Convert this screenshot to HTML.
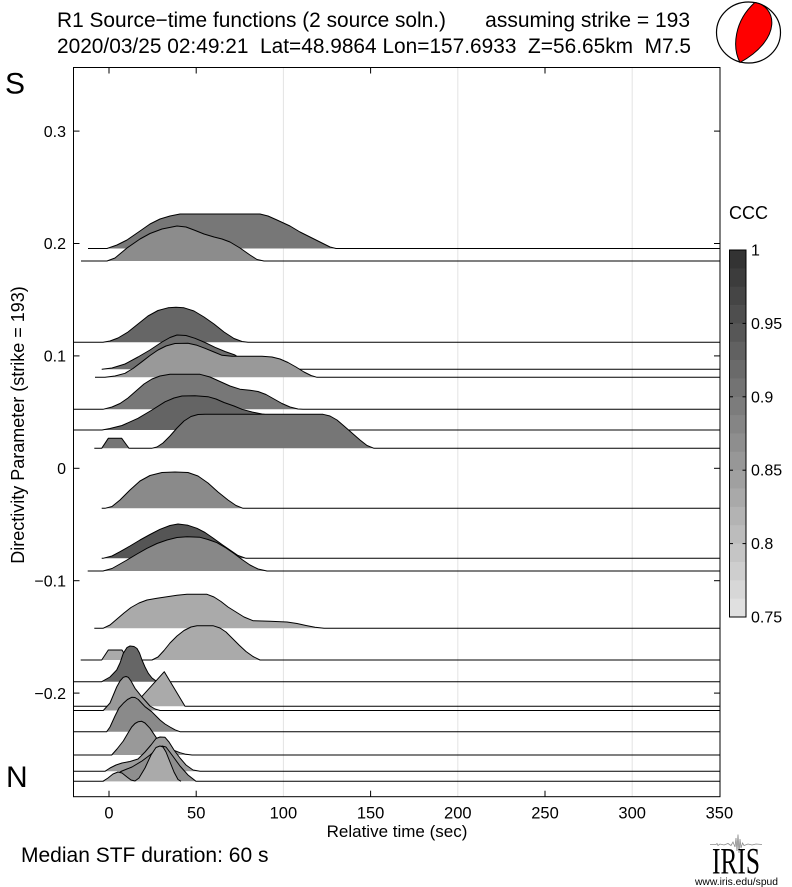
<!DOCTYPE html>
<html><head><meta charset="utf-8"><style>
html,body{margin:0;padding:0;background:#fff;}
svg{display:block;}
text{font-family:"Liberation Sans",Arial,Helvetica,sans-serif;fill:#000;}
.s{fill:none;stroke:#000;stroke-width:1;stroke-linejoin:round;}
</style></head><body>
<svg width="792" height="887" viewBox="0 0 792 887" xmlns="http://www.w3.org/2000/svg">
<rect x="0" y="0" width="792" height="887" fill="#fff"/>

<!-- Titles -->
<text x="57" y="27" font-size="21" textLength="389" lengthAdjust="spacingAndGlyphs">R1 Source−time functions (2 source soln.)</text>
<text x="690" y="27" font-size="21" text-anchor="end">assuming strike = 193</text>
<text x="57" y="53" font-size="21" style="white-space:pre" textLength="634" lengthAdjust="spacingAndGlyphs">2020/03/25 02:49:21  Lat=48.9864 Lon=157.6933  Z=56.65km  M7.5</text>

<!-- Beachball -->
<ellipse cx="748.5" cy="32.5" rx="32" ry="30.5" fill="#fff" stroke="#000" stroke-width="1.2"/>
<path d="M740,62.5 C732,47.2 734.2,21.1 754.8,2.5 C776.4,5.8 783.3,38.5 740,62.5 Z" fill="#ff0000" stroke="#000" stroke-width="1"/>

<!-- Gridlines -->
<line x1="283.4" y1="67.5" x2="283.4" y2="796.7" stroke="#e3e3e3" stroke-width="1"/>
<line x1="457.8" y1="67.5" x2="457.8" y2="796.7" stroke="#e3e3e3" stroke-width="1"/>
<line x1="632.2" y1="67.5" x2="632.2" y2="796.7" stroke="#e3e3e3" stroke-width="1"/>

<!-- T1 -->
<path fill="#777" d="M107,248.5 L117,245 127,240 140,231 150,224 160,219 170,216 180,214 260,214 268,216 277,220 290,226 300,232 312,238 323,243.5 330,247 336,248.5 Z"/>
<path class="s" d="M88,248.5 L107,248.5 117,245 127,240 140,231 150,224 160,219 170,216 180,214 260,214 268,216 277,220 290,226 300,232 312,238 323,243.5 330,247 336,248.5 L720,248.5"/>
<!-- T2 -->
<path fill="#8c8c8c" d="M107,261 L115,258 127,248 140,239 150,233.5 162,229 177,226 186,227 194,230 204,234 214,237 222,239 230,242 240,248 250,255 257,259.5 264,261 Z"/>
<path class="s" d="M81,261 L107,261 115,258 127,248 140,239 150,233.5 162,229 177,226 186,227 194,230 204,234 214,237 222,239 230,242 240,248 250,255 257,259.5 264,261 L720,261"/>
<!-- T3 -->
<path fill="#666" d="M103,342.3 L110,341 118,338 128,332 138,324 148,316 158,310.5 168,307.8 176,307.3 184,307.8 194,311 204,317 214,324 224,332 234,338.5 242,341.5 248,342.3 Z"/>
<path class="s" d="M73.5,342.3 L103,342.3 110,341 118,338 128,332 138,324 148,316 158,310.5 168,307.8 176,307.3 184,307.8 194,311 204,317 214,324 224,332 234,338.5 242,341.5 248,342.3 L720,342.3"/>
<!-- T4 -->
<path fill="#6e6e6e" d="M102,369.3 L112,368 125,364 138,357 150,350 162,342 170,337.5 177,335 186,335.5 195,338.3 205,342.5 215,347.3 225,351.5 235,355 245,362 255,369.3 Z"/>
<path class="s" d="M101.7,369.3 L102,369.3 112,368 125,364 138,357 150,350 162,342 170,337.5 177,335 186,335.5 195,338.3 205,342.5 215,347.3 225,351.5 235,355 245,362 255,369.3 L720,369.3"/>
<!-- T5 -->
<path fill="#999" d="M105,377.3 L115,376 125,373.3 133,368.5 142,361.7 150,355.5 158,350 166,346 175,343.5 188,343.3 197,345.3 205,348.3 214,352 222,355.3 232,356.3 262,356.3 272,357 280,359 288,362.5 296,367 304,372 311,375.5 317,377.3 Z"/>
<path class="s" d="M95,377.3 L105,377.3 115,376 125,373.3 133,368.5 142,361.7 150,355.5 158,350 166,346 175,343.5 188,343.3 197,345.3 205,348.3 214,352 222,355.3 232,356.3 262,356.3 272,357 280,359 288,362.5 296,367 304,372 311,375.5 317,377.3 L720,377.3"/>
<!-- T6 -->
<path fill="#777" d="M103,409.3 L112,407 120,403.5 128,398 136,391 144,384 152,379 160,376 170,374.3 200,374.3 210,377 220,381.5 230,386 240,389.2 250,390.3 258,391.5 266,394.5 274,399 282,403.5 290,407 298,409 303,409.3 Z"/>
<path class="s" d="M73.5,409.3 L103,409.3 112,407 120,403.5 128,398 136,391 144,384 152,379 160,376 170,374.3 200,374.3 210,377 220,381.5 230,386 240,389.2 250,390.3 258,391.5 266,394.5 274,399 282,403.5 290,407 298,409 303,409.3 L720,409.3"/>
<!-- T7 -->
<path fill="#646464" d="M102,430 L110,428.5 122,425.5 138,418.3 152,410 165,401.8 174,398 182,396 195,395.8 208,396.7 216,399 224,402.5 234,406 242,409.3 252,412 262,414 275,416 290,422 300,430 Z"/>
<path class="s" d="M73.5,430 L102,430 110,428.5 122,425.5 138,418.3 152,410 165,401.8 174,398 182,396 195,395.8 208,396.7 216,399 224,402.5 234,406 242,409.3 252,412 262,414 275,416 290,422 300,430 L720,430"/>
<!-- T8 -->
<path fill="#767676" d="M101.7,448.3 L108.3,438.3 121.7,438.3 129,448.3 Z"/>
<path fill="#767676" d="M151.7,448.3 L157,447 163,443 170,436 177,428 184,421 191,416.5 198,414.5 205,414.3 323,414.3 330,416 337,420 344,426 352,433 360,440 367,445.5 374,448.3 Z"/>
<path class="s" d="M94.3,448.3 L101.7,448.3 108.3,438.3 121.7,438.3 129,448.3 L151.7,448.3 157,447 163,443 170,436 177,428 184,421 191,416.5 198,414.5 205,414.3 323,414.3 330,416 337,420 344,426 352,433 360,440 367,445.5 374,448.3 L720,448.3"/>
<!-- T9 -->
<path fill="#8a8a8a" d="M105,508.3 L112,506.5 120,500 130,490 140,481 150,475.5 162,472.5 175,472 188,472.5 198,476 208,483 218,492 228,500 236,505.5 243,508.3 Z"/>
<path class="s" d="M101.7,508.3 L105,508.3 112,506.5 120,500 130,490 140,481 150,475.5 162,472.5 175,472 188,472.5 198,476 208,483 218,492 228,500 236,505.5 243,508.3 L720,508.3"/>
<!-- T10 -->
<path fill="#555" d="M103,558.3 L112,556 120,551.7 130,546 140,540 150,534.5 160,529.3 170,525.5 178,524 188,525.3 197,528.3 205,532.5 213,538 222,544.5 230,550 238,555.5 246,558.3 Z"/>
<path class="s" d="M101.7,558.3 L103,558.3 112,556 120,551.7 130,546 140,540 150,534.5 160,529.3 170,525.5 178,524 188,525.3 197,528.3 205,532.5 213,538 222,544.5 230,550 238,555.5 246,558.3 L720,558.3"/>
<!-- T11 -->
<path fill="#888" d="M103,571 L112,568.5 120,564 127,560 137,554 147,548.3 157,543.5 167,540 177,537.5 187,536.7 200,537.3 208,539.5 217,542.7 226,548 234,553.5 242,559.5 250,565 258,569 267,571 Z"/>
<path class="s" d="M87.7,571 L103,571 112,568.5 120,564 127,560 137,554 147,548.3 157,543.5 167,540 177,537.5 187,536.7 200,537.3 208,539.5 217,542.7 226,548 234,553.5 242,559.5 250,565 258,569 267,571 L720,571"/>
<!-- T12 -->
<path fill="#aaa" d="M103,628.3 L110,625 117,619 124,613 131,607.5 139,603 147,600 157,598.2 167,596.7 177,595.3 187,594.3 207,594.3 214,597 221,601.5 228,607 236,612 244,617 253,620.7 270,621.3 287,622 297,623.5 306,625.5 315,627.3 324,628.3 Z"/>
<path class="s" d="M94.3,628.3 L103,628.3 110,625 117,619 124,613 131,607.5 139,603 147,600 157,598.2 167,596.7 177,595.3 187,594.3 207,594.3 214,597 221,601.5 228,607 236,612 244,617 253,620.7 270,621.3 287,622 297,623.5 306,625.5 315,627.3 324,628.3 L720,628.3"/>
<!-- T13 -->
<path fill="#aaa" d="M101.7,660 L108.3,650 122,650 128,660 Z"/>
<path fill="#aaa" d="M152,660 L158,657 164,650.5 170,643 177,636 184,630.5 191,627 197,625.7 213,625.7 220,628 226,632 232,638 239,645 246,651.5 253,656.5 260,660 Z"/>
<path class="s" d="M80.7,660 L101.7,660 108.3,650 122,650 128,660 L152,660 158,657 164,650.5 170,643 177,636 184,630.5 191,627 197,625.7 213,625.7 220,628 226,632 232,638 239,645 246,651.5 253,656.5 260,660 L720,660"/>
<!-- T14 -->
<path fill="#666" d="M101.7,681.7 L110,677 116.7,670 120,663 123.3,653.3 127,647.5 130,646 134,646.5 137,648.5 139.5,653 142,660 145,667 148.3,673.3 152,678 157,681.7 Z"/>
<path class="s" d="M73.5,681.7 L101.7,681.7 110,677 116.7,670 120,663 123.3,653.3 127,647.5 130,646 134,646.5 137,648.5 139.5,653 142,660 145,667 148.3,673.3 152,678 157,681.7 L720,681.7"/>
<!-- T15 -->
<path fill="#aaa" d="M133,706.3 L164.3,671.7 185,706.3 Z"/>
<path class="s" d="M73.5,706.3 L133,706.3 164.3,671.7 185,706.3 L720,706.3"/>
<!-- T16 -->
<path fill="#999" d="M103.3,710.5 L110,703 116.7,687 120,681 123.3,677.3 126,676.5 128.3,677.3 131,681 135,688.3 141.7,696.7 146,701.5 150,706 155,709 160,710.5 Z"/>
<path class="s" d="M73.5,710.5 L103.3,710.5 110,703 116.7,687 120,681 123.3,677.3 126,676.5 128.3,677.3 131,681 135,688.3 141.7,696.7 146,701.5 150,706 155,709 160,710.5 L720,710.5"/>
<!-- T17 -->
<path fill="#8a8a8a" d="M106.7,731.7 L110,727 115,716 119,708 123.3,703.3 127.5,699.5 131.7,697.3 135,697.5 138.3,699.5 142,703.5 145,706.7 151.7,711.7 156,716 160,720 165,724 170,727 175,729.8 180,731.7 Z"/>
<path class="s" d="M73.5,731.7 L106.7,731.7 110,727 115,716 119,708 123.3,703.3 127.5,699.5 131.7,697.3 135,697.5 138.3,699.5 142,703.5 145,706.7 151.7,711.7 156,716 160,720 165,724 170,727 175,729.8 180,731.7 L720,731.7"/>
<!-- T18 -->
<path fill="#999" d="M111.7,755 L117,749 123.3,741 128,733 131.7,727 135,723.5 138.3,721.7 141.7,721.3 145,723 150,728.3 156.7,738.3 162,743.5 166.7,746.7 173,750 180,752.7 186,754.3 192,755 Z"/>
<path class="s" d="M73.5,755 L111.7,755 117,749 123.3,741 128,733 131.7,727 135,723.5 138.3,721.7 141.7,721.3 145,723 150,728.3 156.7,738.3 162,743.5 166.7,746.7 173,750 180,752.7 186,754.3 192,755 L720,755"/>
<!-- T19 -->
<path fill="#9c9c9c" d="M105,771.3 L110,768 116,765 122,763 130,761.5 138,759 145,752 151,745 156,738.5 160,737 165,737.3 169,742 174,750 180,758 186,765 193,770 200,771.3 Z"/>
<path class="s" d="M73.5,771.3 L105,771.3 110,768 116,765 122,763 130,761.5 138,759 145,752 151,745 156,738.5 160,737 165,737.3 169,742 174,750 180,758 186,765 193,770 200,771.3 L720,771.3"/>
<!-- T20a -->
<path fill="#8e8e8e" d="M103,781.3 L112,776 122,771 132,767 142,761 150,755 157,749 162,746 166,747 172,755 180,766 188,775 196,781.3 Z"/>
<path class="s" d="M73.5,781.3 L103,781.3 112,776 122,771 132,767 142,761 150,755 157,749 162,746 166,747 172,755 180,766 188,775 196,781.3 L720,781.3"/>
<!-- T20b -->
<path fill="#aaa" d="M103,781.3 L108,778 113,774 118,772 122,773 127,777 131,780 135,781 139,778 145,768 151,755 156,747.5 160,746 163,747 166,752 170,762 174,772 178,779.5 181,781.3 Z"/>
<path class="s" d="M103,781.3 L108,778 113,774 118,772 122,773 127,777 131,780 135,781 139,778 145,768 151,755 156,747.5 160,746 163,747 166,752 170,762 174,772 178,779.5 181,781.3"/>

<!-- Frame -->
<rect x="73.5" y="67.5" width="646.5" height="729.2" fill="none" stroke="#000" stroke-width="1"/>

<!-- X ticks (top & bottom) -->
<g stroke="#000" stroke-width="1">
<line x1="109" y1="67.5" x2="109" y2="73.5"/>
<line x1="196.2" y1="67.5" x2="196.2" y2="73.5"/>
<line x1="370.6" y1="67.5" x2="370.6" y2="73.5"/>
<line x1="545" y1="67.5" x2="545" y2="73.5"/>
<line x1="109" y1="796.7" x2="109" y2="790.7"/>
<line x1="196.2" y1="796.7" x2="196.2" y2="790.7"/>
<line x1="370.6" y1="796.7" x2="370.6" y2="790.7"/>
<line x1="545" y1="796.7" x2="545" y2="790.7"/>
<!-- Y ticks left & right -->
<line x1="73.5" y1="131.1" x2="79.5" y2="131.1"/>
<line x1="73.5" y1="243.5" x2="79.5" y2="243.5"/>
<line x1="73.5" y1="355.9" x2="79.5" y2="355.9"/>
<line x1="73.5" y1="468.3" x2="79.5" y2="468.3"/>
<line x1="73.5" y1="580.7" x2="79.5" y2="580.7"/>
<line x1="73.5" y1="693.1" x2="79.5" y2="693.1"/>
<line x1="720" y1="131.1" x2="714" y2="131.1"/>
<line x1="720" y1="243.5" x2="714" y2="243.5"/>
<line x1="720" y1="355.9" x2="714" y2="355.9"/>
<line x1="720" y1="468.3" x2="714" y2="468.3"/>
<line x1="720" y1="580.7" x2="714" y2="580.7"/>
<line x1="720" y1="693.1" x2="714" y2="693.1"/>
</g>

<!-- Y tick labels -->
<g font-size="16" text-anchor="end">
<text x="66" y="136.8">0.3</text>
<text x="66" y="249.2">0.2</text>
<text x="66" y="361.6">0.1</text>
<text x="66" y="474">0</text>
<text x="66" y="586.4">−0.1</text>
<text x="66" y="698.8">−0.2</text>
</g>

<!-- X tick labels -->
<g font-size="16.5" text-anchor="middle">
<text x="109" y="818.5">0</text>
<text x="196.2" y="818.5">50</text>
<text x="283.4" y="818.5">100</text>
<text x="370.6" y="818.5">150</text>
<text x="457.8" y="818.5">200</text>
<text x="545" y="818.5">250</text>
<text x="632.2" y="818.5">300</text>
<text x="719.4" y="818.5">350</text>
</g>
<text x="397" y="837" font-size="17" text-anchor="middle">Relative time (sec)</text>
<text x="21" y="862" font-size="21">Median STF duration: 60 s</text>

<!-- Y axis label -->
<text transform="translate(24,425) rotate(-90)" font-size="18" text-anchor="middle">Directivity Parameter (strike = 193)</text>

<!-- S / N -->
<text x="5" y="93.5" font-size="30">S</text>
<text x="6" y="787" font-size="30">N</text>

<!-- Colorbar -->
<text x="729" y="219" font-size="18">CCC</text>
<g>
<rect x="729.5" y="250" width="16.5" height="18.7" fill="#333"/>
<rect x="729.5" y="268.35" width="16.5" height="18.7" fill="#3c3c3c"/>
<rect x="729.5" y="286.7" width="16.5" height="18.7" fill="#454545"/>
<rect x="729.5" y="305.05" width="16.5" height="18.7" fill="#4e4e4e"/>
<rect x="729.5" y="323.4" width="16.5" height="18.7" fill="#575757"/>
<rect x="729.5" y="341.75" width="16.5" height="18.7" fill="#616161"/>
<rect x="729.5" y="360.1" width="16.5" height="18.7" fill="#6a6a6a"/>
<rect x="729.5" y="378.45" width="16.5" height="18.7" fill="#737373"/>
<rect x="729.5" y="396.8" width="16.5" height="18.7" fill="#7c7c7c"/>
<rect x="729.5" y="415.15" width="16.5" height="18.7" fill="#858585"/>
<rect x="729.5" y="433.5" width="16.5" height="18.7" fill="#8e8e8e"/>
<rect x="729.5" y="451.85" width="16.5" height="18.7" fill="#979797"/>
<rect x="729.5" y="470.2" width="16.5" height="18.7" fill="#a0a0a0"/>
<rect x="729.5" y="488.55" width="16.5" height="18.7" fill="#a9a9a9"/>
<rect x="729.5" y="506.9" width="16.5" height="18.7" fill="#b3b3b3"/>
<rect x="729.5" y="525.25" width="16.5" height="18.7" fill="#bcbcbc"/>
<rect x="729.5" y="543.6" width="16.5" height="18.7" fill="#c5c5c5"/>
<rect x="729.5" y="561.95" width="16.5" height="18.7" fill="#cecece"/>
<rect x="729.5" y="580.3" width="16.5" height="18.7" fill="#d7d7d7"/>
<rect x="729.5" y="598.65" width="16.5" height="18.35" fill="#e0e0e0"/>
</g>
<rect x="729.5" y="250" width="16.5" height="367" fill="none" stroke="#000" stroke-width="1"/>
<g stroke="#000" stroke-width="1">
<line x1="729.5" y1="323.4" x2="733" y2="323.4"/><line x1="746" y1="323.4" x2="742.5" y2="323.4"/>
<line x1="729.5" y1="396.8" x2="733" y2="396.8"/><line x1="746" y1="396.8" x2="742.5" y2="396.8"/>
<line x1="729.5" y1="470.2" x2="733" y2="470.2"/><line x1="746" y1="470.2" x2="742.5" y2="470.2"/>
<line x1="729.5" y1="543.6" x2="733" y2="543.6"/><line x1="746" y1="543.6" x2="742.5" y2="543.6"/>
</g>
<g font-size="16">
<text x="751" y="255.5">1</text>
<text x="751" y="328.9">0.95</text>
<text x="751" y="402.3">0.9</text>
<text x="751" y="475.7">0.85</text>
<text x="751" y="549.1">0.8</text>
<text x="751" y="622.5">0.75</text>
</g>

<!-- IRIS logo -->
<path d="M710,844.5 L716,844.5 L717,843.5 L718,845.5 L720,844 L724,845 L728,843.5 L731,845.5 L733,842 L735,847 L736,838 L737,851 L738,834.5 L739,853 L740,839 L741,848 L742.5,843 L744,845.5 L748,844 L752,845 L756,844 L762,844.5" stroke="#8a8a8a" stroke-width="0.8" fill="none"/>
<text x="712" y="873.3" font-size="37" textLength="48" lengthAdjust="spacingAndGlyphs" style="font-family:'Liberation Serif',serif">IRIS</text>
<text x="695" y="885" font-size="10.5" textLength="83" lengthAdjust="spacingAndGlyphs">www.iris.edu/spud</text>
</svg>
</body></html>
